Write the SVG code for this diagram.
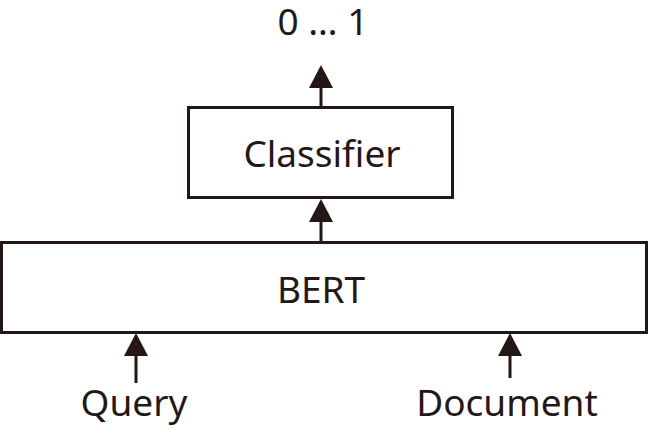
<svg xmlns="http://www.w3.org/2000/svg" width="649" height="431" viewBox="0 0 649 431">
<style>
.box{fill:#fff;stroke:#231815;stroke-width:3}
.lbl{font-family:"Noto Sans","Open Sans",sans-serif;font-size:37px;fill:#231815;text-anchor:middle}
.edge{stroke:#231815;stroke-width:3;fill:none}
.head{fill:#231815}
</style>
<rect width="649" height="431" fill="#fff"/>
<g id="bert"><rect class="box" x="1.5" y="242.5" width="645" height="90"/><text class="lbl" x="321" y="303">BERT</text></g>
<g id="classifier"><rect class="box" x="188.5" y="107.5" width="264" height="90"/><text class="lbl" x="322" y="167">Classifier</text></g>
<g id="output"><text class="lbl" x="323" y="35">0 … 1</text></g>
<g id="query"><text class="lbl" x="134" y="416">Query</text></g>
<g id="document"><text class="lbl" x="507" y="416">Document</text></g>
<g id="connectors">
<line class="edge" x1="321" y1="107" x2="321" y2="85"/><polygon class="head" points="321,65 309,88 333,88"/>
<line class="edge" x1="321" y1="242" x2="321" y2="220"/><polygon class="head" points="321,199 309,222 333,222"/>
<line class="edge" x1="136" y1="383" x2="136" y2="353"/><polygon class="head" points="136,333 124,356 148,356"/>
<line class="edge" x1="510" y1="378" x2="510" y2="353"/><polygon class="head" points="510,333 498,356 522,356"/>
</g>
</svg>
